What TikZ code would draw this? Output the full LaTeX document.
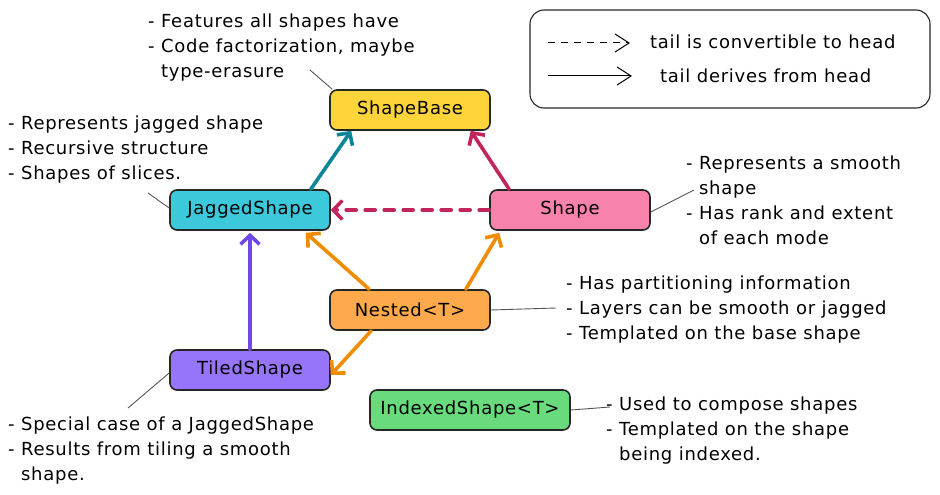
\documentclass[tikz,border=0pt]{standalone}
\usepackage{fontspec}
\setmainfont{DejaVu Sans}[LetterSpace=4]
\definecolor{shyellow}{HTML}{FFD43B}
\definecolor{shcyan}{HTML}{3BC9DB}
\definecolor{shpink}{HTML}{F783AC}
\definecolor{shorange}{HTML}{FFA94D}
\definecolor{shpurple}{HTML}{9775FA}
\definecolor{shgreen}{HTML}{69DB7C}
\definecolor{arteal}{HTML}{0C8599}
\definecolor{arcrimson}{HTML}{C2255C}
\definecolor{arorange}{HTML}{F08C00}
\definecolor{arviolet}{HTML}{7048E8}
\definecolor{notegrey}{HTML}{555555}
\usetikzlibrary{arrows.meta,positioning}

\begin{document}
\begin{tikzpicture}[x=1pt,y=-1pt,
  cls/.style={draw=black!85,line width=1.6pt,rounded corners=7pt,align=center,
    font=\fontsize{18}{20}\selectfont,inner sep=0pt,minimum height=40pt,minimum width=160pt},
  note/.style={anchor=north west,align=left,inner sep=0pt,font=\fontsize{18}{25}\selectfont},
  leg/.style={anchor=west,inner sep=0pt,font=\fontsize{18}{20}\selectfont},
  tie/.style={draw=notegrey,line width=0.9pt},
  arr/.style={-{Straight Barb[length=9pt,width=19pt]},line width=3.6pt,line cap=round}]
  \useasboundingbox (0,0) rectangle (940,495);
  \node[cls,fill=shyellow] (base) at (410,110) {ShapeBase};
  \node[cls,fill=shcyan] (jagged) at (250,210) {JaggedShape};
  \node[cls,fill=shpink] (shape) at (570,210) {Shape};
  \node[cls,fill=shorange] (nested) at (410,310) {Nested<T>};
  \node[cls,fill=shpurple] (tiled) at (250,370) {TiledShape};
  \node[cls,fill=shgreen,minimum width=200pt] (indexed) at (470,410) {IndexedShape<T>};

  \draw[arr,arteal] ([xshift=-20pt]jagged.north east) -- ([xshift=22pt]base.south west);
  \draw[arr,arcrimson] ([xshift=20pt]shape.north west) -- ([xshift=-20pt]base.south east);
  \draw[arr,arcrimson,dashed,dash pattern=on 10pt off 9pt] (shape.west) -- (jagged.east);
  \draw[arr,arorange] ([xshift=40pt]nested.north west) -- ([xshift=-25pt,yshift=-2pt]jagged.south east);
  \draw[arr,arorange] ([xshift=-25pt]nested.north east) -- ([xshift=10pt,yshift=-2pt]shape.south west);
  \draw[arr,arorange] ([xshift=42pt]nested.south west) -- ([yshift=-5pt]tiled.east);
  \draw[arr,arviolet] (tiled.north) -- ([yshift=-2pt]jagged.south);

  \node[note] (nbase) at (148,14) {- Features all shapes have\\- Code factorization, maybe\\\hphantom{- }type-erasure};
  \node[note] (njagged) at (8,116) {- Represents jagged shape\\- Recursive structure\\- Shapes of slices.};
  \node[note] (nshape) at (686,156) {- Represents a smooth\\\hphantom{- }shape\\- Has rank and extent\\\hphantom{- }of each mode};
  \node[note] (nnested) at (566,276) {- Has partitioning information\\- Layers can be smooth or jagged\\- Templated on the base shape};
  \node[note] (ntiled) at (8,417) {- Special case of a JaggedShape\\- Results from tiling a smooth\\\hphantom{- }shape.};
  \node[note] (nindexed) at (606,397) {- Used to compose shapes\\- Templated on the shape\\\hphantom{- }being indexed.};

  \coordinate (tbase) at (310,70);
  \coordinate (tjagged) at (148,193);
  \coordinate (tshape) at (694,190);
  \coordinate (tnested) at (556,308);
  \coordinate (ttiled) at (128,408);
  \coordinate (tindexed) at (610,407);
  \draw[tie] (tbase) -- ([xshift=3pt]base.north west);
  \draw[tie] (tjagged) -- ([yshift=2pt]jagged.west);
  \draw[tie] (tshape) -- ([yshift=-2pt]shape.east);
  \draw[tie] (tnested) -- (nested.east);
  \draw[tie] (ttiled) -- ([yshift=-3pt]tiled.west);
  \draw[tie] (tindexed) -- (indexed.east);

  \node[draw=black!85,line width=1.1pt,rounded corners=14pt,minimum width=400pt,minimum height=98pt,
    inner sep=0pt] (legend) at (730,59) {};
  \coordinate (dstart) at (548,43);
  \coordinate (dend) at (630,43);
  \coordinate (sstart) at (548,76);
  \coordinate (send) at (632,76);
  \draw[-{Straight Barb[length=14pt,width=18pt]},line width=1pt,dashed,dash pattern=on 7pt off 6pt] (dstart) -- (dend);
  \draw[-{Straight Barb[length=14pt,width=18pt]},line width=1pt] (sstart) -- (send);
  \node[leg] (lconv) at (650,42) {tail is convertible to head};
  \node[leg] (lderiv) at (660,76) {tail derives from head};
\end{tikzpicture}
\end{document}
